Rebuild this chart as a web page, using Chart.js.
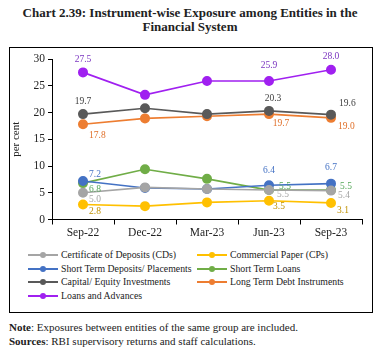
<!DOCTYPE html>
<html>
<head>
<meta charset="utf-8">
<script src="https://cdn.jsdelivr.net/npm/chart.js@4"></script>
<style>
  body { margin: 0; width: 380px; height: 351px; background: #fff; font-family: "Liberation Serif", serif; position: relative; overflow: hidden; }
  #title { position: absolute; left: 0; top: 6px; width: 380px; text-align: center; font-weight: bold; font-size: 13px; line-height: 14px; color: #222; }
  #frame { position: absolute; left: 9px; top: 47px; width: 362px; height: 264px; border: 1px solid #000; }
  #wrap { position: absolute; left: 0; top: 1px; width: 361px; height: 195px; }
  #legend { position: absolute; left: 0; top: 200px; width: 361px; font-size: 9.8px; color: #222; }
  .item { position: absolute; height: 13px; line-height: 13px; white-space: nowrap; }
  .sw { position: absolute; top: 6px; width: 30px; height: 2px; }
  .dot { position: absolute; top: -2px; left: 12px; width: 6px; height: 6px; border-radius: 50%; }
  .txt { position: absolute; left: 33px; top: 0; }
  #notes { position: absolute; left: 9px; top: 320px; font-size: 11px; line-height: 14px; color: #222; }
</style>
</head>
<body>
<div id="title">Chart 2.39: Instrument-wise Exposure among Entities in the<br>Financial System</div>
<div id="frame">
  <div id="wrap"><canvas id="lineChart"></canvas></div>
  <div id="legend"></div>
</div>
<div id="notes"><b>Note</b>: Exposures between entities of the same group are included.<br><b>Sources</b>: RBI supervisory returns and staff calculations.</div>
<script>
const quarters = ["Sep-22", "Dec-22", "Mar-23", "Jun-23", "Sep-23"];
const seriesNames = ["Certificate of Deposits (CDs)", "Commercial Paper (CPs)", "Short Term Deposits/ Placements", "Short Term Loans", "Capital/ Equity Investments", "Long Term Debt Instruments", "Loans and Advances"];
const cdValues = [5.0, 6.0, 5.7, 5.5, 5.4];
const cpValues = [2.8, 2.5, 3.2, 3.5, 3.1];
const stDepositValues = [7.2, 5.9, 5.7, 6.4, 6.7];
const stLoanValues = [6.8, 9.4, 7.6, 5.5, 5.5];
const equityValues = [19.7, 20.8, 19.7, 20.3, 19.6];
const ltDebtValues = [17.8, 18.9, 19.3, 19.7, 19.0];
const loanAdvValues = [27.5, 23.3, 25.9, 25.9, 28.0];
const yTicks = [0, 5, 10, 15, 20, 25, 30];

const lineColors = ["#A5A5A5", "#FFC000", "#4472C4", "#70AD47", "#595959", "#ED7D31", "#A020F0"];
const labelColors = ["#A5A5A5", "#BF9000", "#4472C4", "#56A85A", "#404040", "#E0702A", "#7B35C0"];
const allValues = [cdValues, cpValues, stDepositValues, stLoanValues, equityValues, ltDebtValues, loanAdvValues];

// which points carry a value label, and where it sits relative to the point
const labelIdx = [0, 3, 4];
const labelPos = [
  [[6, 7, 'left'], [8, 4, 'left'], [7, 5, 'left']],
  [[6, 7, 'left'], [4, 6, 'left'], [6, 8, 'left']],
  [[6, -6, 'left'], [0, -15, 'center'], [0, -16, 'center']],
  [[6, 6, 'left'], [10, -4, 'left'], [9, -4, 'left']],
  [[0, -13, 'center'], [4, -12, 'center'], [8, -11, 'left']],
  [[6, 11, 'left'], [12, 9, 'center'], [7, 9, 'left']],
  [[0, -13, 'center'], [0, -15, 'center'], [0, -13, 'center']]
];

const valueLabels = {
  id: 'valueLabels',
  afterDatasetsDraw(chart) {
    const c = chart.ctx;
    c.save();
    c.font = '9.5px "Liberation Serif"';
    c.textBaseline = 'middle';
    chart.data.datasets.forEach((ds, i) => {
      const meta = chart.getDatasetMeta(i);
      labelIdx.forEach((j, k) => {
        const pt = meta.data[j];
        const p = labelPos[i][k];
        c.fillStyle = labelColors[i];
        c.textAlign = p[2];
        c.fillText(ds.data[j].toFixed(1), pt.x + p[0], pt.y + p[1]);
      });
    });
    c.restore();
  }
};

const ctx = document.getElementById("lineChart").getContext('2d');
const myChart = new Chart(ctx, {
  type: 'line',
  data: {
    labels: quarters,
    datasets: seriesNames.map((name, i) => ({
      label: name,
      data: allValues[i],
      borderColor: lineColors[i],
      backgroundColor: lineColors[i],
      borderWidth: 1.6,
      pointRadius: 4.2,
      pointHoverRadius: 4.2,
      tension: 0
    }))
  },
  options: {
    responsive: true,
    maintainAspectRatio: false,
    animation: false,
    layout: { padding: { top: 10, right: 9, left: 0, bottom: 0 } },
    plugins: {
      legend: { display: false },
      tooltip: { enabled: false }
    },
    scales: {
      x: {
        offset: true,
        grid: { offset: true, drawOnChartArea: false, color: '#000', tickLength: 5 },
        border: { color: '#000', width: 1 },
        ticks: { color: '#222', padding: 2, font: { family: 'Liberation Serif', size: 11.5 } },
        afterFit(scale) { scale.height = 24.5; }
      },
      y: {
        min: 0,
        max: 30,
        afterBuildTicks(scale) { scale.ticks = yTicks.map(v => ({ value: v })); },
        grid: { drawOnChartArea: false, color: '#000', tickLength: 4 },
        border: { color: '#000', width: 1 },
        ticks: { color: '#222', padding: 3, font: { family: 'Liberation Serif', size: 11.5 } },
        title: { display: true, text: 'per cent', color: '#222', padding: 0, font: { family: 'Liberation Serif', size: 11 } },
        afterFit(scale) { scale.width = 42; }
      }
    }
  },
  plugins: [valueLabels]
});

// legend in two columns, as in the source figure
const legendPos = [[18, 0], [187, 0], [18, 1], [187, 1], [18, 2], [187, 2], [18, 3]];
const legendRowY = [0, 13.5, 27, 40.5];
const legendBox = document.getElementById('legend');
seriesNames.forEach((name, i) => {
  const item = document.createElement('div');
  item.className = 'item';
  item.style.left = legendPos[i][0] + 'px';
  item.style.top = legendRowY[legendPos[i][1]] + 'px';
  item.innerHTML = '<div class="sw" style="background:' + lineColors[i] + '"><div class="dot" style="background:' + lineColors[i] + '"></div></div><span class="txt">' + name + '</span>';
  legendBox.appendChild(item);
});
</script>
</body>
</html>
